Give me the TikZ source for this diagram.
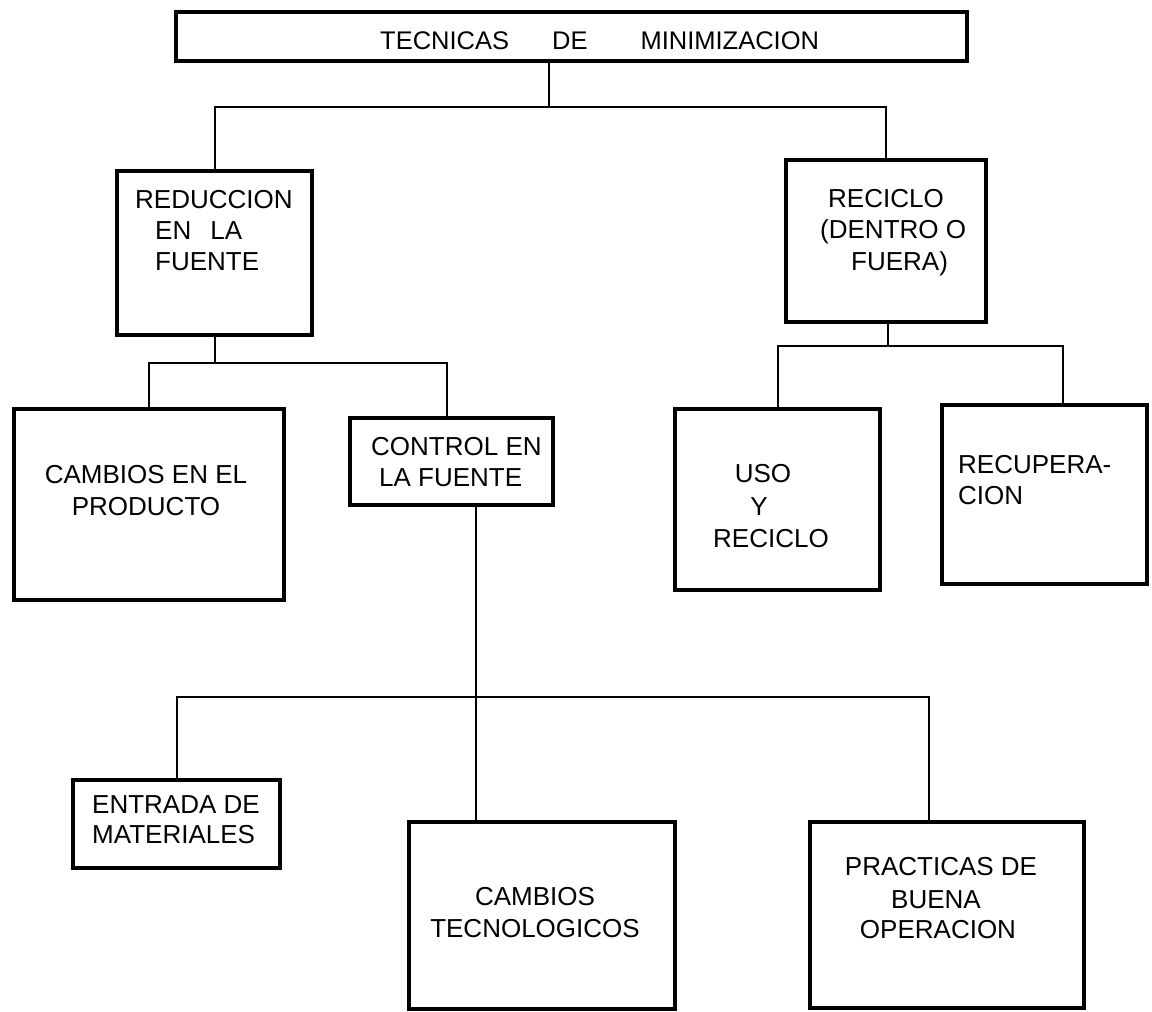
\documentclass[tikz,border=0pt]{standalone}
\usepackage{fontspec}
\setmainfont{Liberation Sans}
\tikzset{
  box/.style={draw, line width=3.9pt, inner sep=0pt},
  conn/.style={line width=2pt},
  txt/.style={inner sep=0pt, anchor=base west, font=\fontsize{26}{31}\selectfont},
  txtc/.style={txt, anchor=base},
  ttl/.style={txt, font=\fontsize{25.5}{30}\selectfont},
}
\begin{document}
\begin{tikzpicture}[x=1pt, y=-1pt]
\useasboundingbox (0,0) rectangle (1152,1012);

% boxes
\node[box, minimum width=791pt, minimum height=49pt]  (top)   at (571.5,36.5) {};
\node[box, minimum width=195pt, minimum height=164pt] (red)   at (214.5,253) {};
\node[box, minimum width=200pt, minimum height=162pt] (rec)   at (886,241) {};
\node[box, minimum width=270pt, minimum height=191pt] (cep)   at (149,504.5) {};
\node[box, minimum width=203pt, minimum height=87pt]  (ctl)   at (451.5,461.5) {};
\node[box, minimum width=205pt, minimum height=181pt] (uso)   at (777.5,499.5) {};
\node[box, minimum width=205pt, minimum height=179pt] (recup) at (1044.5,494.5) {};
\node[box, minimum width=207pt, minimum height=88pt]  (ent)   at (176.5,824) {};
\node[box, minimum width=266pt, minimum height=187pt] (tec)   at (542,915.5) {};
\node[box, minimum width=274pt, minimum height=186pt] (prac)  at (947,915) {};

% texts
\node[ttl] (t-top) at (380,49) {TECNICAS\hspace{43pt}DE\hspace{53pt}MINIMIZACION};

\node[txt] (t-red1) at (135,208) {REDUCCION};
\node[txt] (t-red2) at (155,239) {EN\hspace{19pt}LA};
\node[txt] (t-red3) at (155,270) {FUENTE};

\node[txt] (t-rec1) at (828,207) {RECICLO};
\node[txt] (t-rec2) at (820,238) {(DENTRO O};
\node[txt] (t-rec3) at (851,270) {FUERA)};

\node[txtc] (t-cep1) at (146,483) {CAMBIOS EN EL};
\node[txtc] (t-cep2) at (146,515) {PRODUCTO};

\node[txt] (t-ctl1) at (371,455) {CONTROL EN};
\node[txt] (t-ctl2) at (379,486) {LA FUENTE};

\node[txtc] (t-uso1) at (763,482) {USO};
\node[txtc] (t-uso2) at (759,515) {Y};
\node[txtc] (t-uso3) at (771,547) {RECICLO};

\node[txt] (t-rcp1) at (958,473) {RECUPERA-};
\node[txt] (t-rcp2) at (958,504) {CION};

\node[txt] (t-ent1) at (92,813) {ENTRADA DE};
\node[txt] (t-ent2) at (92,843) {MATERIALES};

\node[txtc] (t-tec1) at (535,905) {CAMBIOS};
\node[txtc] (t-tec2) at (535,937) {TECNOLOGICOS};

\node[txtc] (t-prc1) at (941,875) {PRACTICAS DE};
\node[txtc] (t-prc2) at (936,908) {BUENA};
\node[txtc] (t-prc3) at (938,938) {OPERACION};

% junction coordinates
\coordinate (j1)  at (549,107);
\coordinate (j2)  at (215,363);
\coordinate (j2r) at (447,363);
\coordinate (j3)  at (888,346);
\coordinate (j3r) at (1063,346);
\coordinate (j4)  at (476,697);
\coordinate (j4r) at (929,697);

% connectors
\draw[conn] (top.south -| j1) -- (j1);
\draw[conn] (red.north) |- (j1) -| (rec.north);

\draw[conn] (red.south -| j2) -- (j2);
\draw[conn] (cep.north) |- (j2r) -- (ctl.north -| j2r);

\draw[conn] (rec.south -| j3) -- (j3);
\draw[conn] (uso.north) |- (j3r) -- (recup.north -| j3r);

\draw[conn] (ctl.south -| j4) -- (tec.north -| j4);
\draw[conn] (ent.north) |- (j4r) -- (prac.north -| j4r);
\end{tikzpicture}
\end{document}
